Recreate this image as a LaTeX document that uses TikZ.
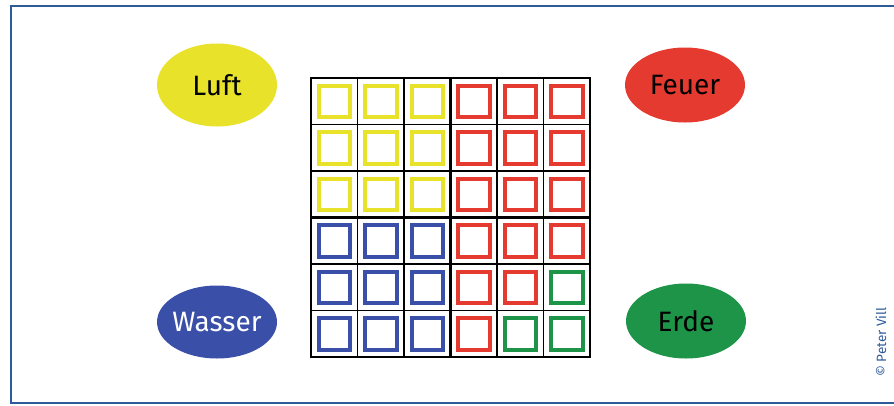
\documentclass[tikz,border=0pt]{standalone}
\usepackage{fontspec}
\setmainfont{Fira Sans}
\usetikzlibrary{shapes.geometric}
\definecolor{cyel}{HTML}{E8E22A}
\definecolor{cred}{HTML}{E53A2F}
\definecolor{cblu}{HTML}{3A4FA8}
\definecolor{cgrn}{HTML}{1E9448}
\definecolor{cframe}{HTML}{2E5C9A}
\newcommand\eltext[1]{\makebox[0pt]{#1}}
\tikzset{
  elem/.style={ellipse, inner sep=0pt, minimum width=120pt, font=\fontsize{28}{28}\selectfont},
  cellsq/.style={line width=4pt},
}
\begin{document}
\begin{tikzpicture}[x=1pt,y=-1pt]
\useasboundingbox (0,0) rectangle (894,405);
\fill[white] (0,0) rectangle (894,405);
% frame (open on the right)
\draw[cframe, line width=2pt] (894,6) -- (11,6) -- (11,403) -- (894,403);
% ellipses
\node[elem, fill=cyel, minimum height=83pt] (luft) at (217,85) {\eltext{Luft}};
\node[elem, fill=cred, minimum height=75pt] (feuer) at (685,85) {\eltext{Feuer}};
\node[elem, fill=cblu, minimum height=73pt, text=white] (wasser) at (217,322) {\eltext{Wasser}};
\node[elem, fill=cgrn, minimum height=75pt] (erde) at (686,321) {\eltext{Erde}};
% inner squares
\def\cs{46.5}
\foreach \r/\row in {0/{cyel,cyel,cyel,cred,cred,cred},1/{cyel,cyel,cyel,cred,cred,cred},2/{cyel,cyel,cyel,cred,cred,cred},3/{cblu,cblu,cblu,cred,cred,cred},4/{cblu,cblu,cblu,cred,cred,cgrn},5/{cblu,cblu,cblu,cred,cgrn,cgrn}}{
  \foreach \col [count=\c from 0] in \row {
    \draw[cellsq, draw=\col] ({311+\c*\cs+7.5},{78+\r*\cs+7.5}) rectangle ++(31.5,31.5);
  }
}
% grid
\foreach \i in {1,2,4,5}{
  \draw[line width=1.4pt] ({311+\i*\cs},78) -- ({311+\i*\cs},357);
  \draw[line width=1.4pt] (311,{78+\i*\cs}) -- (590,{78+\i*\cs});
}
\draw[line width=2.6pt] ({311+3*\cs},78) -- ({311+3*\cs},357);
\draw[line width=2.6pt] (311,{78+3*\cs}) -- (590,{78+3*\cs});
\draw[line width=2.4pt] (311,78) rectangle (590,357);
% copyright
\node[rotate=90, text=cframe, font=\fontsize{13.5}{13.5}\selectfont, inner sep=0pt] (copy) at (881,342) {© Peter Vill};
\end{tikzpicture}
\end{document}
